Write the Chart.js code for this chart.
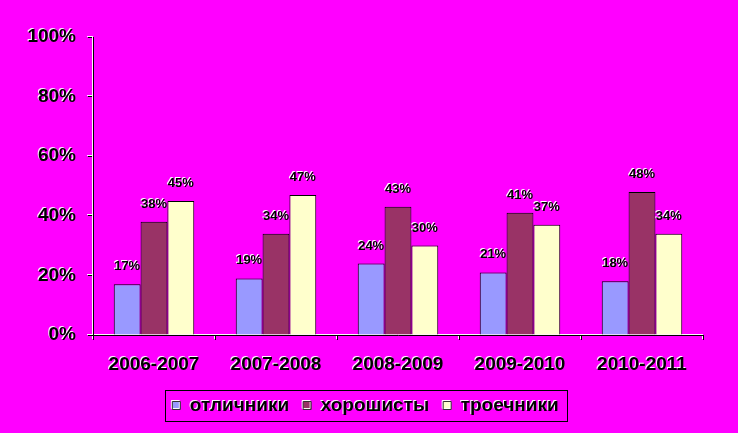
<!DOCTYPE html>
<html><head><meta charset="utf-8">
<script src="https://cdn.jsdelivr.net/npm/chart.js@4"></script>
<style>html,body{margin:0;padding:0;background:#FF00FF;}#wrap{width:738px;height:433px;}</style>
</head><body><div id="wrap"><canvas id="c" width="738" height="433"></canvas></div>
<script>
const categories = ['2006-2007','2007-2008','2008-2009','2009-2010','2010-2011'];
const otlichniki = [17,19,24,21,18];
const khoroshisty = [38,34,43,41,48];
const troechniki = [45,47,30,37,34];
const seriesNames = ['отличники','хорошисты','троечники'];
const yTicks = [0,20,40,60,80,100];

const FONT = 'Arial, "Liberation Sans", sans-serif';

const bgShadow = {
  id:'bgShadow',
  afterLayout(chart){
    const lg=chart.legend; if(!lg) return;
    const dx=14;
    lg.left+=dx; lg.right+=dx;
    (lg.legendHitBoxes||[]).forEach(h=>{h.left+=dx;});
  },
  beforeDraw(chart){
    const c=chart.ctx;
    c.save(); c.fillStyle='#FF00FF'; c.fillRect(0,0,chart.width,chart.height); c.restore();
    c.shadowColor='rgba(255,255,255,0.95)'; c.shadowOffsetX=-1; c.shadowOffsetY=-1; c.shadowBlur=0;
  },
  beforeDatasetsDraw(chart){
    const c=chart.ctx; c.shadowColor='rgba(0,0,0,0)'; c.shadowOffsetX=0; c.shadowOffsetY=0;
  }
};

const dataLabels = {
  id:'dataLabels',
  afterDatasetsDraw(chart){
    const ctx=chart.ctx;
    ctx.save();
    ctx.font='bold 13px '+FONT;
    ctx.textAlign='center';
    ctx.textBaseline='bottom';
    chart.data.datasets.forEach((ds,i)=>{
      chart.getDatasetMeta(i).data.forEach((bar,j)=>{
        const t=ds.data[j]+'%';
        ctx.fillStyle='#FFFFFF';
        ctx.fillText(t,bar.x-1,bar.y-12);
        ctx.fillStyle='#000000';
        ctx.fillText(t,bar.x,bar.y-11);
      });
    });
    ctx.restore();
  },
  afterDraw(chart){
    const lg=chart.legend; if(!lg||!lg.legendHitBoxes.length) return;
    const hb=lg.legendHitBoxes;
    let l=Infinity,r=-Infinity,t=Infinity,b=-Infinity;
    hb.forEach(h=>{l=Math.min(l,h.left);r=Math.max(r,h.left+h.width);t=Math.min(t,h.top);b=Math.max(b,h.top+h.height);});
    const ctx=chart.ctx;
    ctx.save();
    ctx.shadowColor='rgba(0,0,0,0)';
    ctx.strokeStyle='#000'; ctx.lineWidth=1;
    ctx.strokeRect(Math.round(l-7)+0.5,Math.round(t-6)+0.5,Math.round(r-l+16),Math.round(b-t+12));
    ctx.restore();
  }
};

new Chart(document.getElementById('c'),{
  type:'bar',
  data:{
    labels:categories,
    datasets:[
      {label:seriesNames[0],data:otlichniki,backgroundColor:'#9999FF',borderColor:'#000',borderWidth:1},
      {label:seriesNames[1],data:khoroshisty,backgroundColor:'#993366',borderColor:'#000',borderWidth:1},
      {label:seriesNames[2],data:troechniki,backgroundColor:'#FFFFCC',borderColor:'#000',borderWidth:1}
    ]
  },
  options:{
    responsive:false,
    animation:false,
    devicePixelRatio:1,
    layout:{padding:{left:0,right:35,top:37,bottom:8}},
    datasets:{bar:{categoryPercentage:0.66,barPercentage:1}},
    scales:{
      x:{
        grid:{display:true,drawOnChartArea:false,offset:true,tickLength:5,color:'#000'},
        border:{display:true,color:'#000',width:1},
        ticks:{color:'#000',font:{family:FONT,size:19,weight:'bold'},padding:13,maxRotation:0},
        afterFit(s){s.height=47;}
      },
      y:{
        min:0,max:100,
        grid:{display:true,drawOnChartArea:false,tickLength:5,color:'#000'},
        border:{display:true,color:'#000',width:1},
        afterBuildTicks(s){s.ticks=yTicks.map(v=>({value:v}));},
        ticks:{color:'#000',font:{family:FONT,size:19,weight:'bold'},padding:12,callback:v=>v+'%'},
        afterFit(s){s.width=93;}
      }
    },
    plugins:{
      legend:{
        position:'bottom',
        labels:{color:'#000',font:{family:FONT,size:19,weight:'bold'},boxWidth:8,boxHeight:8,padding:14,
          generateLabels(chart){
            return chart.data.datasets.map((d,i)=>({text:d.label,fillStyle:d.backgroundColor,strokeStyle:'#333',lineWidth:1,datasetIndex:i,fontColor:'#000'}));
          }}
      },
      tooltip:{enabled:false}
    }
  },
  plugins:[bgShadow,dataLabels]
});
</script></body></html>
